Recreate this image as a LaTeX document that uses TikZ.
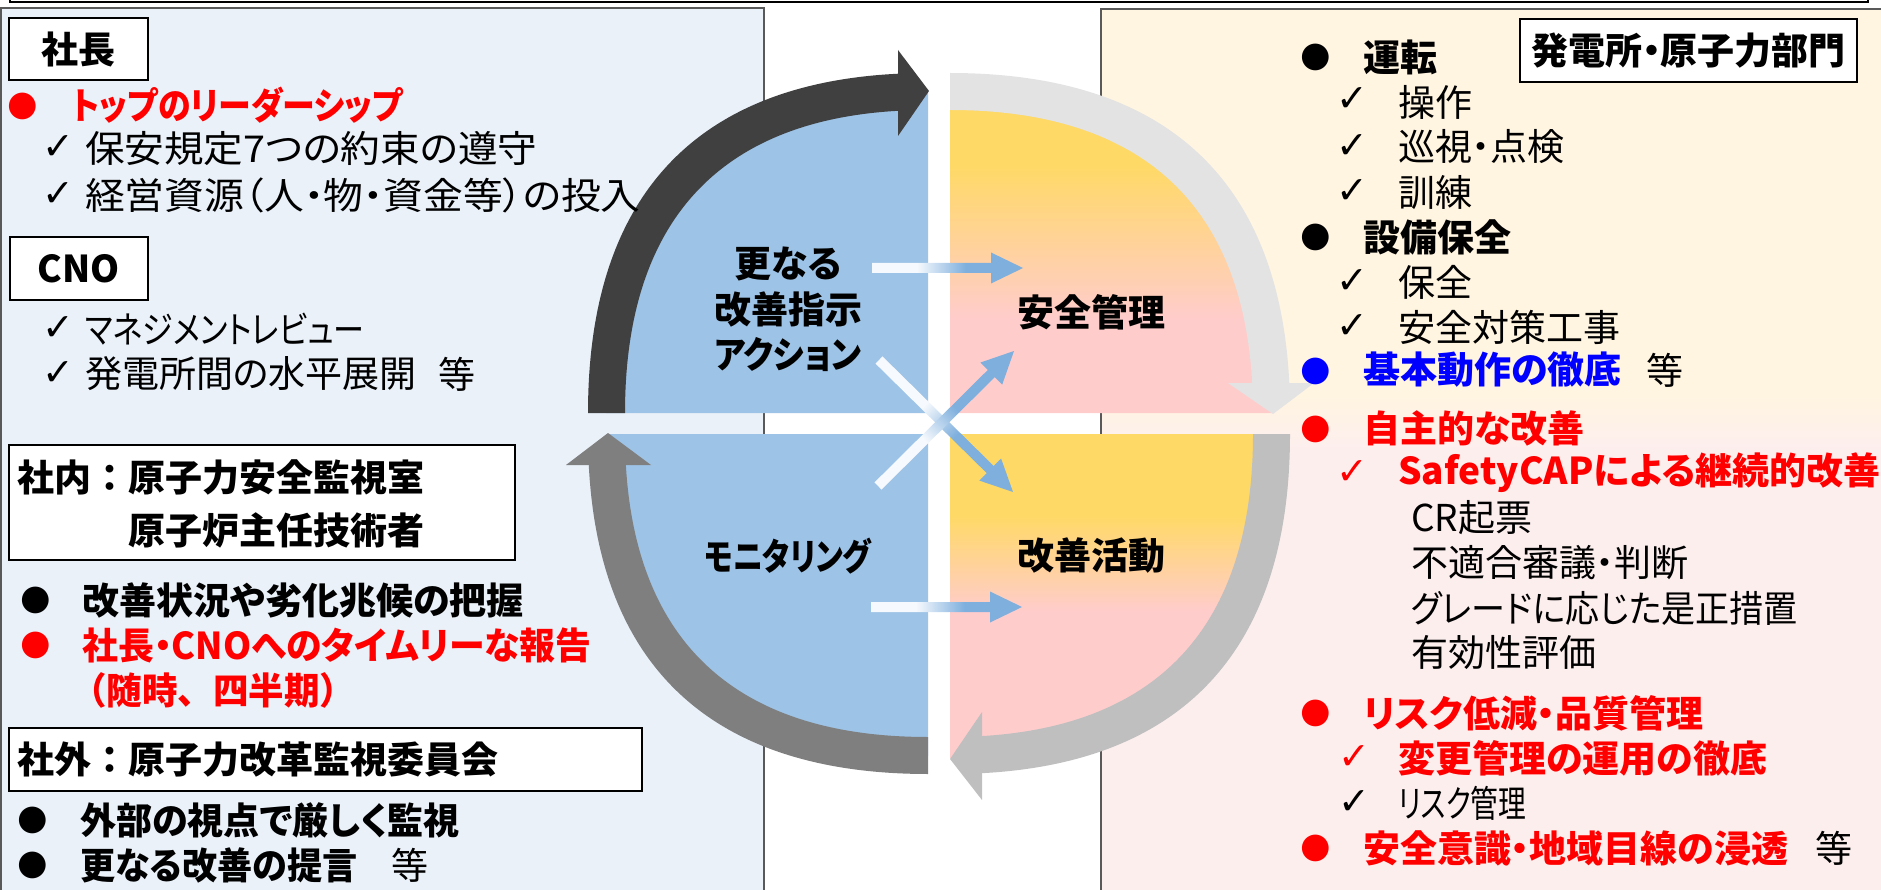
\documentclass[tikz,border=0pt]{standalone}
\usepackage{fontspec}
\setmainfont{Noto Sans CJK JP}[RawFeature=+palt]
\newfontfamily\jpfull{Noto Sans CJK JP}
\newfontfamily\symfont{DejaVu Sans}
\usetikzlibrary{calc}
\definecolor{panelL}{HTML}{EAF1F9}
\definecolor{panelRt}{HTML}{FFF5E1}
\definecolor{panelRb}{HTML}{FDEEEE}
\definecolor{panelline}{HTML}{595959}
\definecolor{qblue}{HTML}{9DC3E6}
\definecolor{qyel}{HTML}{FFD966}
\definecolor{qpink}{HTML}{FFCCCC}
\definecolor{bandA}{HTML}{404040}
\definecolor{bandB}{HTML}{7F7F7F}
\definecolor{bandC}{HTML}{E3E3E3}
\definecolor{bandD}{HTML}{BFBFBF}
\definecolor{arrowblue}{HTML}{7EAFDD}
\definecolor{arrowwhite}{HTML}{F6F9FD}
\definecolor{jred}{HTML}{FF0000}
\definecolor{jblue}{HTML}{0000FF}
\pgfdeclarehorizontalshading{arrshade}{100bp}{color(0bp)=(arrowwhite); color(25bp)=(arrowwhite); color(40bp)=(arrowwhite); color(56bp)=(arrowblue); color(75bp)=(arrowblue); color(100bp)=(arrowblue)}
\tikzset{
  jt/.style={inner sep=0pt, anchor=west, font=\fontsize{37}{44}\selectfont},
  jb/.style={jt, font=\fontsize{37}{44}\selectfont\bfseries},
  chk/.style={inner sep=0pt, font=\symfont\fontsize{38}{40}\selectfont},
  bul/.style={inner sep=0pt, font=\symfont\fontsize{35}{36}\selectfont},
  hbox/.style={draw=black, line width=2.5pt, fill=white, inner sep=0pt, font=\fontsize{37}{44}\selectfont\bfseries},
}
\newcommand\sx[2]{\scalebox{#1}[1]{#2}}
\newcommand\gradarrow[3]{%
  \coordinate (#1hb) at ($(#2)!32pt!(#1)$);
  \shade[shading=arrshade, shading angle=#3]
    ($(#1)!5pt!90:(#2)$) -- ($(#1hb)!5pt!-90:(#1)$) -- ($(#1hb)!15.5pt!-90:(#1)$) -- (#2)
    -- ($(#1hb)!15.5pt!90:(#1)$) -- ($(#1hb)!5pt!90:(#1)$) -- ($(#1)!5pt!-90:(#2)$) -- cycle;
}
\begin{document}
\begin{tikzpicture}[x=1pt,y=-1pt]
\useasboundingbox (0,0) rectangle (1881,890);
% panels
\fill[panelL] (1,8) rectangle (764,892);
\draw[line width=1.2pt, panelline] (1,892) -- (1,8) -- (764,8) -- (764,892);
\fill[panelRt] (1101,9) rectangle (1885,395);
\shade[top color=panelRt, bottom color=panelRb] (1101,395) rectangle (1885,450);
\fill[panelRb] (1101,450) rectangle (1885,892);
\draw[line width=1.2pt, panelline] (1101,892) -- (1101,9) -- (1885,9);
\draw[line width=2pt] (10,-5) -- (10,2) -- (1868,2) -- (1868,-5);
% quadrant corners
\coordinate (c1) at (928,413);
\coordinate (c2) at (928,434);
\coordinate (c3) at (950,413);
\coordinate (c4) at (950,434);
% quadrant fills
\fill[qblue] (c1) -- (606,413) .. controls (606,200.5) and (715.5,91) .. (928,91) -- cycle;
\fill[qblue] (c2) -- (928,756) .. controls (715.5,756) and (606,646.5) .. (606,434) -- cycle;
\begin{scope}
\clip (c3) -- (950,91) .. controls (1162.5,91) and (1274,200.5) .. (1274,413) -- cycle;
\fill[qpink] (940,80) rectangle (1280,420);
\fill[qyel] (940,80) rectangle (1280,165);
\shade[top color=qyel, bottom color=qpink] (940,165) rectangle (1280,320);
\end{scope}
\begin{scope}
\clip (c4) -- (1272,434) .. controls (1272,646.5) and (1162.5,758) .. (950,758) -- cycle;
\fill[qpink] (940,430) rectangle (1280,765);
\fill[qyel] (940,430) rectangle (1280,515);
\shade[top color=qyel, bottom color=qpink] (940,515) rectangle (1280,612);
\end{scope}
% bands
\begin{scope}
\clip (0,0) rectangle (898.5,500);
\fill[bandA] (588,413) .. controls (588,188.6) and (703.6,73) .. (928,73)
  -- (928,110) .. controls (728,110) and (625,213) .. (625,413) -- cycle;
\end{scope}
\fill[bandA] (898,50) -- (929,91) -- (898,136) -- cycle;
\begin{scope}
\clip (0,465) rectangle (1000,900);
\fill[bandB] (928,774) .. controls (703.6,774) and (588,658.4) .. (588,434)
  -- (625,434) .. controls (625,634) and (728,737) .. (928,737) -- cycle;
\end{scope}
\fill[bandB] (566,465) -- (608,433) -- (651,465) -- cycle;
\begin{scope}
\clip (900,0) rectangle (1400,383.5);
\fill[bandC] (950,73) .. controls (1174.4,73) and (1290,188.6) .. (1290,413)
  -- (1253,413) .. controls (1253,213) and (1150,110) .. (950,110) -- cycle;
\end{scope}
\fill[bandC] (1228,383) -- (1273,414) -- (1314,383) -- cycle;
\begin{scope}
\clip (981.5,400) rectangle (1400,900);
\fill[bandD] (1290,434) .. controls (1290,658.4) and (1174.4,774) .. (950,774)
  -- (950,737) .. controls (1150,737) and (1253,634) .. (1253,434) -- cycle;
\end{scope}
\fill[bandD] (982,712) -- (950,759) -- (982,800) -- cycle;
% light arrows
\coordinate (a1s) at (872,268);  \coordinate (a1e) at (1023,268);
\coordinate (a2s) at (871,607);  \coordinate (a2e) at (1022,607);
\coordinate (a3s) at (879,360);  \coordinate (a3e) at (1013,492);
\coordinate (a4s) at (878,486);  \coordinate (a4e) at (1014,351);
\gradarrow{a1s}{a1e}{0}
\gradarrow{a2s}{a2e}{0}
\gradarrow{a3s}{a3e}{-44.6}
\gradarrow{a4s}{a4e}{44.8}
% centre labels
\node[inner sep=0pt, align=center, font=\fontsize{37}{45.5}\selectfont\bfseries] (ca) at (788,309.5) {更なる\\改善指示\\\sx{0.9}{アクション}};
\node[inner sep=0pt, font=\fontsize{37}{44}\selectfont\bfseries] (cb) at (788,556) {\sx{0.81}{モニタリング}};
\node[inner sep=0pt, font=\fontsize{37}{44}\selectfont\bfseries] (cc) at (1091,312) {安全管理};
\node[inner sep=0pt, font=\fontsize{37}{44}\selectfont\bfseries] (cd) at (1091,556) {改善活動};
% left panel
\node[hbox, minimum width=139, minimum height=62] (b1) at (78.5,49) {社長};
\node[bul, text=jred] (l1b) at (23,106) {●};
\node[jb, text=jred] (l1) at (72,105) {\sx{0.89}{トップのリーダーシップ}};
\node[chk] (l2c) at (58,148) {✓};
\node[jt] (l2) at (85,149) {\sx{1.07}{保安規定7つの約束の遵守}};
\node[chk] (l3c) at (58,195) {✓};
\node[jt] (l3) at (85,195) {\sx{1.075}{経営資源（人・物・資金等）の投入}};
\node[hbox, minimum width=138, minimum height=63] (b2) at (79,268.5) {CNO};
\node[chk] (l4c) at (58,329) {✓};
\node[jt] (l4) at (85,329) {\sx{0.84}{マネジメントレビュー}};
\node[chk] (l5c) at (58,374) {✓};
\node[jt] (l5) at (85,374) {発電所間の水平展開};
\node[jt] (l5e) at (438,374) {等};
\node[hbox, minimum width=506, minimum height=115] (b3) at (262,502.5) {};
\node[jb] (b3a) at (17,477) {社内\makebox[37pt]{：}原子力安全監視室};
\node[jb] (b3b) at (128,530) {原子炉主任技術者};
\node[bul] (l6b) at (36,600) {●};
\node[jb] (l6) at (82,600) {改善状況や劣化兆候の把握};
\node[bul, text=jred] (l7b) at (36,645) {●};
\node[jb, text=jred] (l7) at (82,645) {\sx{0.97}{社長・CNOへのタイムリーな報告}};
\node[jb, text=jred, font=\jpfull\fontsize{37}{44}\selectfont\bfseries] (l8) at (71,690) {\sx{0.96}{（随時、四半期）}};
\node[hbox, minimum width=633, minimum height=63] (b4) at (325.5,759.5) {};
\node[jb] (b4a) at (17,760) {社外\makebox[37pt]{：}原子力改革監視委員会};
\node[bul] (l9b) at (33,820) {●};
\node[jb] (l9) at (80,820) {\sx{0.975}{外部の視点で厳しく監視}};
\node[bul] (l10b) at (33,865) {●};
\node[jb] (l10) at (80,865) {\sx{0.95}{更なる改善の提言}};
\node[jt] (l10e) at (391,865) {等};
% right panel
\node[hbox, minimum width=337, minimum height=63] (b5) at (1688.5,50.5) {発電所・原子力部門};
\node[bul] (r1b) at (1316,57) {●};
\node[jb] (r1) at (1363,57) {運転};
\node[chk] (r2c) at (1352,100) {✓};
\node[jt] (r2) at (1398,102) {操作};
\node[chk] (r3c) at (1352,147) {✓};
\node[jt] (r3) at (1398,147) {巡視・点検};
\node[chk] (r4c) at (1352,192) {✓};
\node[jt] (r4) at (1398,192) {訓練};
\node[bul] (r5b) at (1316,237) {●};
\node[jb] (r5) at (1363,237) {設備保全};
\node[chk] (r6c) at (1352,282) {✓};
\node[jt] (r6) at (1398,282) {保全};
\node[chk] (r7c) at (1352,327) {✓};
\node[jt] (r7) at (1398,327) {安全対策工事};
\node[bul, text=jblue] (r8b) at (1316,371) {●};
\node[jb, text=jblue] (r8) at (1363,370) {基本動作の徹底};
\node[jt] (r8e) at (1646,370) {等};
\node[bul, text=jred] (r9b) at (1316,429) {●};
\node[jb, text=jred] (r9) at (1363,428) {自主的な改善};
\node[chk, text=jred] (r10c) at (1352,473) {✓};
\node[jb, text=jred] (r10) at (1398,473) {SafetyCAPによる継続的改善};
\node[jt] (r11) at (1411,518) {CR起票};
\node[jt] (r12) at (1411,563) {不適合審議・判断};
\node[jt] (r13) at (1411,608) {\sx{0.92}{グレードに応じた是正措置}};
\node[jt] (r14) at (1411,653) {有効性評価};
\node[bul, text=jred] (r15b) at (1316,713) {●};
\node[jb, text=jred] (r15) at (1363,713) {リスク低減・品質管理};
\node[chk, text=jred] (r16c) at (1354,758) {✓};
\node[jb, text=jred] (r16) at (1398,758) {変更管理の運用の徹底};
\node[chk] (r17c) at (1354,803) {✓};
\node[jt] (r17) at (1398,803) {\sx{0.75}{リスク管理}};
\node[bul, text=jred] (r18b) at (1316,848) {●};
\node[jb, text=jred] (r18) at (1363,848) {安全意識・地域目線の浸透};
\node[jt] (r18e) at (1815,848) {等};
\end{tikzpicture}
\end{document}
